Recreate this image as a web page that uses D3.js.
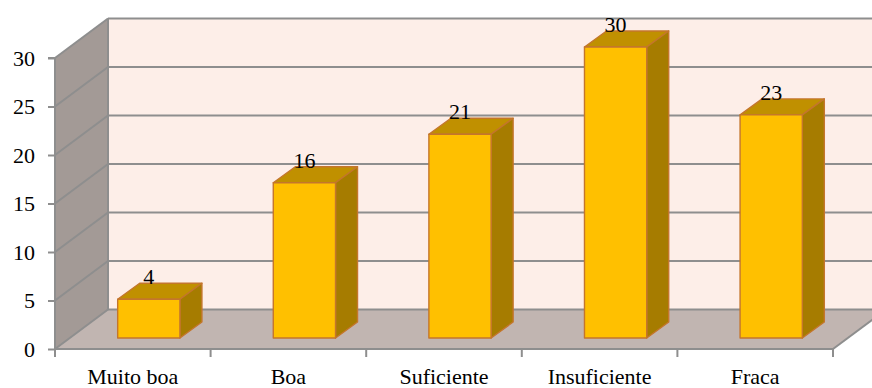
<!DOCTYPE html>
<html>
<head>
<meta charset="utf-8">
<script src="https://cdn.jsdelivr.net/npm/d3@7"></script>
<style>
  @font-face {
    font-family: "ChartSerif";
    src: local("Liberation Serif"), local("LiberationSerif-Regular"), local("LiberationSerif"), local("DejaVu Serif"), local("DejaVuSerif");
  }
  html, body { margin: 0; padding: 0; background: #ffffff; }
  svg { display: block; }
</style>
</head>
<body>
<svg id="chart" width="872" height="388"></svg>
<script>
// Chart data
const categories = ["Muito boa", "Boa", "Suficiente", "Insuficiente", "Fraca"];
const values = [4, 16, 21, 30, 23];
const yTicks = [0, 5, 10, 15, 20, 25, 30];

const svg = d3.select("#chart");
const W = 872;
const serif = '"Liberation Serif", ChartSerif, "Times New Roman", Tinos, "DejaVu Serif", serif';

// Front plane of the 3D box and its depth offset
const frontLeft = 55, frontRight = 833, frontBottom = 349, frontTop = 58;
const depth = { dx: 53, dy: -39.5 };
// Bars sit inside the box depth
const barFront = { dx: 16, dy: -11 };
const barDepth = { dx: 22, dy: -16 };

const x = d3.scaleBand().domain(categories).range([frontLeft, frontRight]).padding(0);
const y = d3.scaleLinear().domain([0, 30]).range([frontBottom, frontTop]);

const gridColor = "#8e8e8e";
const pts = a => a.map(p => p.join(",")).join(" ");

// Back wall
svg.append("polygon")
  .attr("points", pts([
    [frontLeft + depth.dx, y(30) + depth.dy],
    [W + 10, y(30) + depth.dy],
    [W + 10, y(0) + depth.dy],
    [frontLeft + depth.dx, y(0) + depth.dy]
  ]))
  .attr("fill", "#fdeee8");

// Side wall
svg.append("polygon")
  .attr("points", pts([
    [frontLeft, y(0)],
    [frontLeft, y(30)],
    [frontLeft + depth.dx, y(30) + depth.dy],
    [frontLeft + depth.dx, y(0) + depth.dy]
  ]))
  .attr("fill", "#a39a96");

// Floor
svg.append("polygon")
  .attr("points", pts([
    [frontLeft, y(0)],
    [frontRight, y(0)],
    [frontRight + depth.dx, y(0) + depth.dy],
    [frontLeft + depth.dx, y(0) + depth.dy]
  ]))
  .attr("fill", "#c1b5b1");

// Gridlines on back wall and side wall
const grid = svg.append("g").attr("stroke", gridColor).attr("stroke-width", 2).attr("fill", "none");
yTicks.forEach(t => {
  grid.append("line")
    .attr("x1", frontLeft + depth.dx).attr("x2", W + 10)
    .attr("y1", y(t) + depth.dy).attr("y2", y(t) + depth.dy);
  grid.append("line")
    .attr("x1", frontLeft).attr("x2", frontLeft + depth.dx)
    .attr("y1", y(t)).attr("y2", y(t) + depth.dy);
});
// Back wall left edge
grid.append("line")
  .attr("x1", frontLeft + depth.dx).attr("x2", frontLeft + depth.dx)
  .attr("y1", y(30) + depth.dy).attr("y2", y(0) + depth.dy);
// Floor right edge
grid.append("line")
  .attr("x1", frontRight).attr("x2", frontRight + depth.dx)
  .attr("y1", y(0)).attr("y2", y(0) + depth.dy);

// Bars
const barW = x.bandwidth() * 0.4;
const bars = svg.append("g")
  .attr("stroke", "#c4762c").attr("stroke-width", 1.4).attr("stroke-linejoin", "round");
const labels = svg.append("g");

categories.forEach((c, i) => {
  const v = values[i];
  const cx = x(c) + x.bandwidth() / 2 + barFront.dx;
  const x0 = cx - barW / 2, x1 = cx + barW / 2;
  const yb = y(0) + barFront.dy, yt = y(v) + barFront.dy;
  const g = bars.append("g");
  g.append("polygon")
    .attr("points", pts([[x0, yt], [x0 + barDepth.dx, yt + barDepth.dy], [x1 + barDepth.dx, yt + barDepth.dy], [x1, yt]]))
    .attr("fill", "#c09000");
  g.append("polygon")
    .attr("points", pts([[x1, yt], [x1 + barDepth.dx, yt + barDepth.dy], [x1 + barDepth.dx, yb + barDepth.dy], [x1, yb]]))
    .attr("fill", "#a67c00");
  g.append("rect")
    .attr("x", x0).attr("y", yt).attr("width", barW).attr("height", yb - yt)
    .attr("fill", "#ffc000");
  labels.append("text")
    .attr("x", cx).attr("y", yt + barDepth.dy + 1)
    .attr("text-anchor", "middle")
    .style("font-family", serif).style("font-size", "22px").style("fill", "#000")
    .text(v);
});

// Value axis (front left)
const yAxis = d3.axisLeft(y).tickValues(yTicks).tickSize(7).tickPadding(13);
const ya = svg.append("g").attr("transform", `translate(${frontLeft},0)`).call(yAxis);
ya.attr("font-family", null).attr("font-size", null);
ya.select(".domain").attr("stroke", gridColor).attr("stroke-width", 2).attr("d", `M-7,${y(30)}H0V${y(0)}`);
ya.selectAll(".tick line").attr("stroke", gridColor).attr("stroke-width", 2);
ya.selectAll(".tick text").attr("dy", "0.34em")
  .style("font-family", serif).style("font-size", "22px").style("fill", "#000");

// Category axis (front bottom)
const xa = svg.append("g").attr("transform", `translate(0,${frontBottom})`);
xa.append("line").attr("x1", frontLeft).attr("x2", frontRight).attr("y1", 0).attr("y2", 0)
  .attr("stroke", gridColor).attr("stroke-width", 2);
const edges = categories.map(c => x(c)).concat([frontRight]);
xa.selectAll("line.tick").data(edges).join("line")
  .attr("class", "tick")
  .attr("x1", d => d).attr("x2", d => d).attr("y1", 0).attr("y2", 8)
  .attr("stroke", gridColor).attr("stroke-width", 2);
xa.selectAll("text").data(categories).join("text")
  .attr("x", d => x(d) + x.bandwidth() / 2)
  .attr("y", 35)
  .attr("text-anchor", "middle")
  .style("font-family", serif).style("font-size", "22px").style("fill", "#000")
  .text(d => d);
</script>
</body>
</html>
